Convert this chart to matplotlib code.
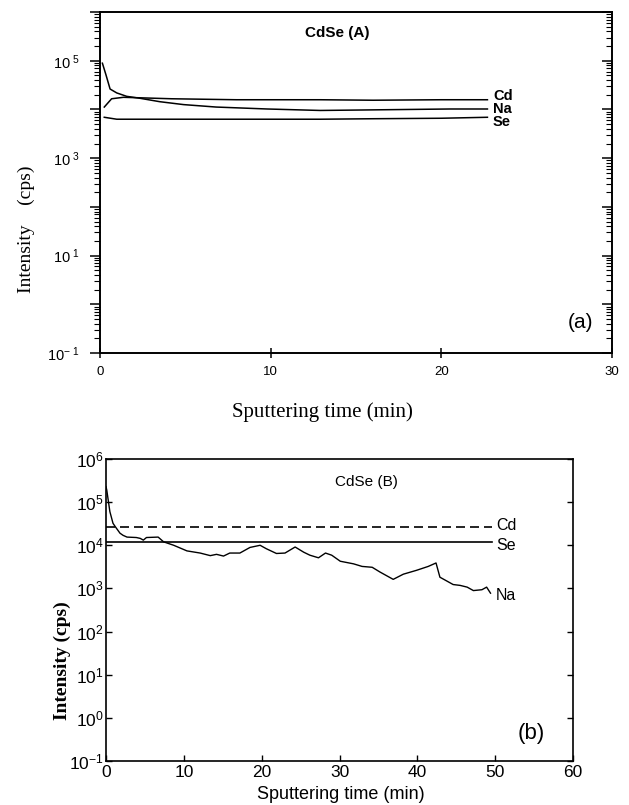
import numpy as np
import matplotlib
matplotlib.use("Agg")
import matplotlib.pyplot as plt
from matplotlib.ticker import LogLocator, FixedLocator, FuncFormatter, NullFormatter

plt.rcParams['mathtext.fontset'] = 'custom'
plt.rcParams['mathtext.rm'] = 'Liberation Sans'
plt.rcParams['mathtext.it'] = 'Liberation Sans:italic'
plt.rcParams['mathtext.bf'] = 'Liberation Sans:bold'

# ---------------- Panel (a): CdSe(A) ----------------
a_na_t = [0.14, 0.35, 0.59, 0.98, 1.56, 2.34, 3.5, 4.9, 6.8, 9.8, 12.9, 15.5, 18.0, 20.5, 22.7]
a_na_log = [4.95, 4.71, 4.42, 4.34, 4.27, 4.23, 4.16, 4.10, 4.05, 4.01, 3.98, 3.99, 4.00, 4.01, 4.01]
a_cd_t = [0.25, 0.68, 1.37, 4.2, 8.0, 12.9, 16.0, 20.0, 22.7]
a_cd_log = [4.05, 4.22, 4.25, 4.22, 4.20, 4.20, 4.19, 4.20, 4.20]
a_se_t = [0.25, 0.98, 5.0, 10.0, 12.9, 16.0, 20.0, 22.7]
a_se_log = [3.84, 3.80, 3.80, 3.80, 3.80, 3.81, 3.82, 3.84]

# ---------------- Panel (b): CdSe(B) ----------------
b_cd_t = [0.0, 49.6]
b_cd_log = [4.43, 4.43]
b_se_t = [0.0, 49.6]
b_se_log = [4.08, 4.08]
b_na_t = [0.0, 0.1, 0.5, 0.9, 1.2, 1.8, 2.2, 2.7, 3.9, 4.4, 4.8, 5.2, 6.7, 7.4, 8.7,
          10.4, 12.1, 13.4, 14.2, 15.1, 15.9, 17.2, 18.5, 19.8, 20.6, 21.9, 23.0, 24.3,
          25.4, 26.2, 27.3, 28.2, 29.0, 30.1, 31.8, 32.9, 34.2, 35.2, 36.9, 38.2, 39.9,
          41.4, 42.4, 42.9, 43.6, 44.6, 45.5, 46.4, 47.2, 48.3, 48.9, 49.4]
b_na_log = [5.36, 5.28, 4.78, 4.51, 4.43, 4.28, 4.23, 4.19, 4.18, 4.16, 4.12, 4.18, 4.19, 4.08, 4.00,
            3.87, 3.82, 3.76, 3.79, 3.75, 3.82, 3.82, 3.95, 4.00, 3.92, 3.81, 3.82, 3.96,
            3.84, 3.77, 3.71, 3.82, 3.77, 3.63, 3.57, 3.51, 3.49, 3.38, 3.21, 3.33, 3.42,
            3.51, 3.59, 3.26, 3.19, 3.09, 3.07, 3.03, 2.95, 2.97, 3.03, 2.89]

top_xticks = [0, 10, 20, 30]
bot_xticks = [0, 10, 20, 30, 40, 50, 60]

fig = plt.figure(figsize=(6.29, 8.05), dpi=100)

def p(v):
    return 10 ** np.asarray(v)

# ---------- top panel ----------
ax1 = fig.add_axes([0.159, 0.5615, 0.814, 0.4235])
ax1.set_yscale('log')
ax1.set_xlim(0, 30)
ax1.set_ylim(1e-1, 1e6)
lw = 1.1
ax1.plot(a_na_t, p(a_na_log), color='black', lw=lw)
ax1.plot(a_cd_t, p(a_cd_log), color='black', lw=lw)
ax1.plot(a_se_t, p(a_se_log), color='black', lw=lw)
for s in ax1.spines.values():
    s.set_linewidth(1.4)

ax1.yaxis.set_major_locator(LogLocator(base=10, numticks=20))
ax1.yaxis.set_minor_locator(LogLocator(base=10, subs=np.arange(2, 10), numticks=20))
def odd_fmt(v, pos):
    e = int(round(np.log10(v)))
    if e % 2 == 1 or e == -1:
        return r'$10^{\ %d}$' % e if e >= 0 else r'$10^{-\ 1}$'
    return ''
ax1.yaxis.set_major_formatter(FuncFormatter(odd_fmt))
ax1.yaxis.set_minor_formatter(NullFormatter())
ax1.tick_params(axis='y', which='major', direction='out', length=7, width=1.1, labelsize=10.5, pad=8)
ax1.tick_params(axis='y', which='minor', direction='out', length=4, width=0.8)
ax1.xaxis.set_major_locator(FixedLocator(top_xticks))
ax1.tick_params(axis='x', which='major', direction='inout', length=7, width=1.1, labelsize=9.5,
                pad=6)
for lab in ax1.get_xticklabels():
    lab.set_family('Liberation Sans')
for lab in ax1.get_yticklabels():
    lab.set_family('Liberation Sans')

ax1r = ax1.twinx()
ax1r.set_yscale('log')
ax1r.set_ylim(1e-1, 1e6)
ax1r.yaxis.set_major_locator(LogLocator(base=10, numticks=20))
ax1r.yaxis.set_minor_locator(LogLocator(base=10, subs=np.arange(2, 10), numticks=20))
ax1r.yaxis.set_major_formatter(NullFormatter())
ax1r.yaxis.set_minor_formatter(NullFormatter())
ax1r.tick_params(axis='y', which='major', direction='in', length=7, width=1.1)
ax1r.tick_params(axis='y', which='minor', direction='in', length=4, width=0.8)
for s in ax1r.spines.values():
    s.set_visible(False)

fig.text(305 / 629, 1 - 33 / 805, 'CdSe (A)', fontsize=11,
         fontweight='bold', family='Liberation Sans', va='center', ha='left')
for lbl, yp in [('Cd', 96), ('Na', 109), ('Se', 122)]:
    fig.text(493 / 629, 1 - yp / 805, lbl, fontsize=10.5, fontweight='bold',
             family='Liberation Sans', va='center', ha='left')
fig.text(568 / 629, 1 - 322 / 805, '(a)', fontsize=15, family='Liberation Sans',
         va='center', ha='left')
fig.text(26 / 629, 1 - 229 / 805, 'Intensity    (cps)', rotation=90, fontsize=14,
         family='Liberation Serif', va='center', ha='center')
fig.text(322 / 629, 1 - 412 / 805, 'Sputtering time (min)', fontsize=15,
         family='Liberation Serif', va='center', ha='center')

# ---------- bottom panel ----------
ax2 = fig.add_axes([0.1685, 0.0547, 0.7425, 0.3751])
ax2.set_yscale('log')
ax2.set_xlim(0, 60)
ax2.set_ylim(1e-1, 1e6)
ax2.plot(b_cd_t, p(b_cd_log), color='black', lw=1.2, dashes=(5.4, 3))
ax2.plot(b_se_t, p(b_se_log), color='black', lw=1.2)
ax2.plot(b_na_t, p(b_na_log), color='black', lw=1.0)
for s in ax2.spines.values():
    s.set_linewidth(1.2)
ax2.yaxis.set_major_locator(LogLocator(base=10, numticks=20))
ax2.yaxis.set_minor_locator(FixedLocator([]))
ax2.yaxis.set_major_formatter(FuncFormatter(lambda v, pos: r'$10^{%d}$' % int(round(np.log10(v)))))
ax2.xaxis.set_major_locator(FixedLocator(bot_xticks))
ax2.tick_params(axis='both', which='major', direction='in', length=4.5, width=1.0,
                labelsize=12.5, right=True)
ax2.tick_params(axis='x', pad=3)
ax2.tick_params(axis='y', pad=1.5)
for lab in ax2.get_xticklabels() + ax2.get_yticklabels():
    lab.set_family('Liberation Sans')

fig.text(366 / 629, 1 - 482 / 805, 'CdSe (B)', fontsize=11, family='Liberation Sans',
         va='center', ha='center')
for lbl, yp in [('Cd', 525), ('Se', 546), ('Na', 596)]:
    fig.text(496 / 629, 1 - yp / 805, lbl, fontsize=11.5, family='Liberation Sans',
             va='center', ha='left')
fig.text(518 / 629, 1 - 733 / 805, '(b)', fontsize=16, family='Liberation Sans',
         va='center', ha='left')
fig.text(62 / 629, 1 - 661 / 805, 'Intensity (cps)', rotation=90, fontsize=14,
         fontweight='bold', family='Liberation Serif', va='center', ha='center')
fig.text(341 / 629, 1 - 794 / 805, 'Sputtering time (min)', fontsize=13,
         family='Liberation Sans', va='center', ha='center')

fig.savefig('out.png', dpi=100)
